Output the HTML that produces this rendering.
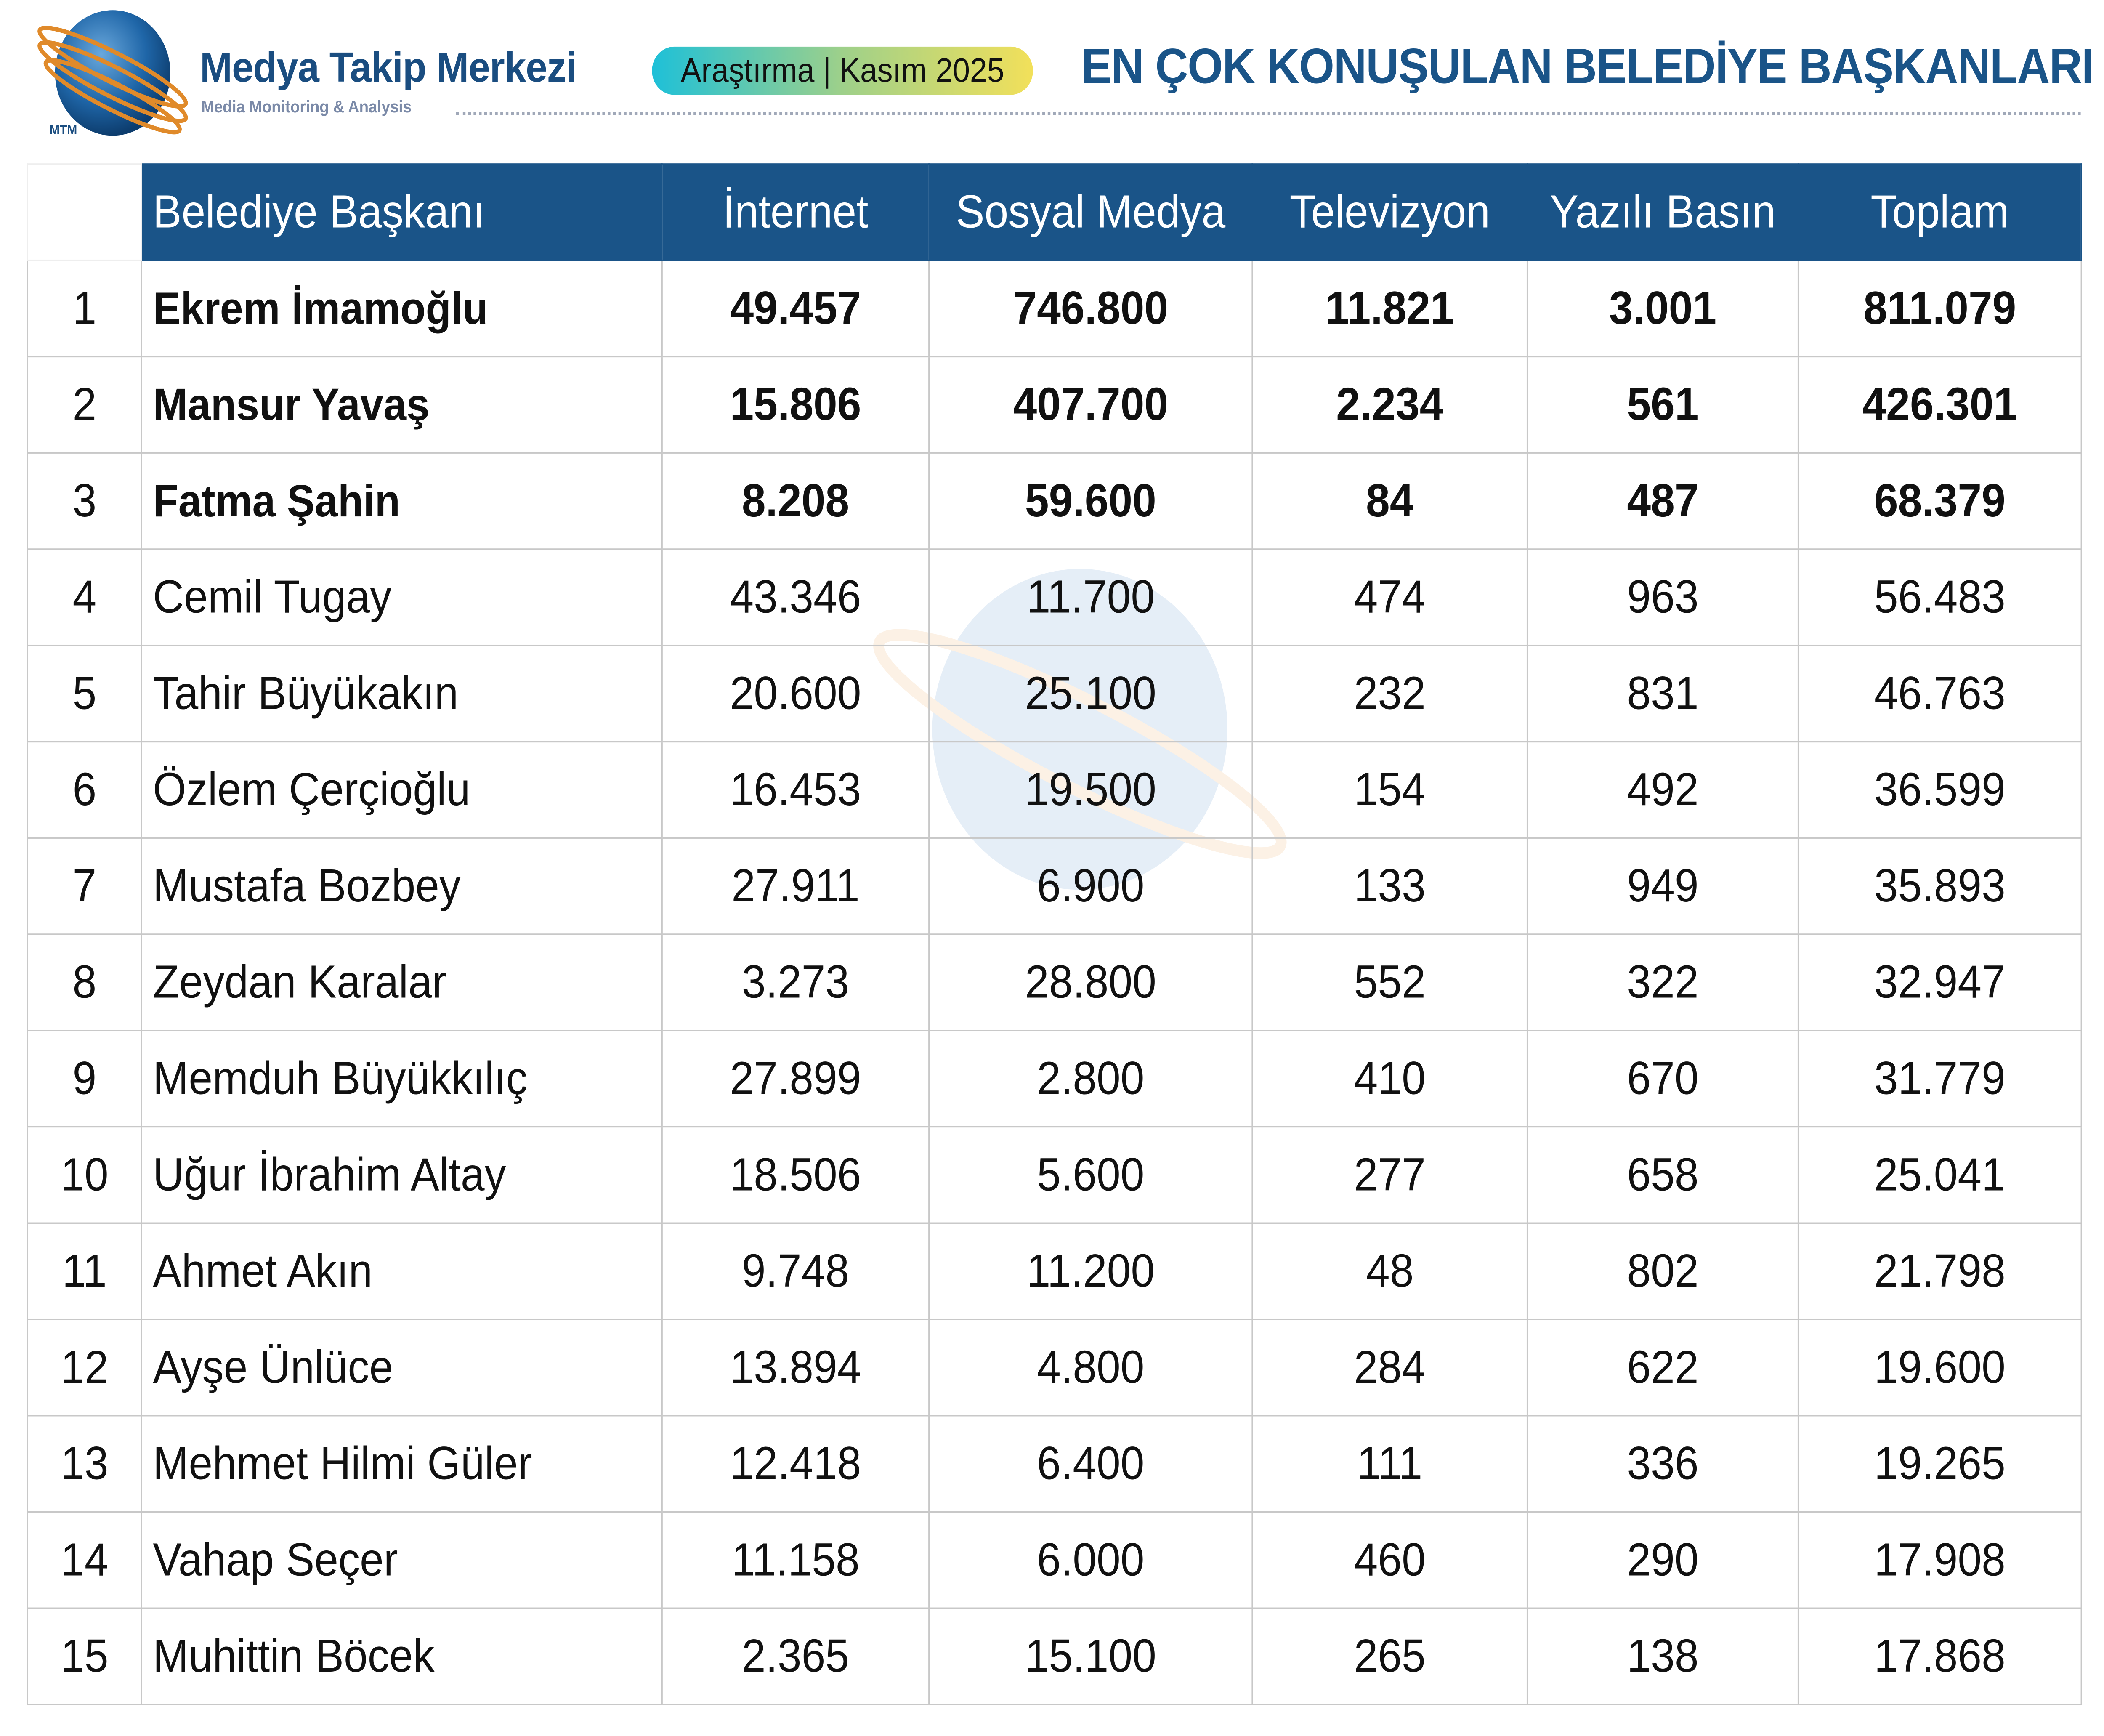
<!DOCTYPE html>
<html><head><meta charset="utf-8"><style>
html,body{margin:0;padding:0;background:#fff;}
body{width:5438px;height:4125px;overflow:hidden;position:relative;}
#w{position:absolute;left:0;top:0;width:1568px;height:1190px;transform:scale(3.188,3.466);transform-origin:0 0;font-family:"Liberation Sans","DejaVu Sans",sans-serif;}
.a{position:absolute;}
table{position:absolute;left:20px;top:112px;border-collapse:collapse;table-layout:fixed;}
td{height:65px;border:1px solid #c8c8c8;font-size:32px;color:#111;text-align:center;padding:0;white-space:nowrap;overflow:hidden;}
td.n{text-align:left;padding-left:8px;}
tr.h td{background:#1a5488;color:#fff;border-color:#1a5488;font-size:32px;}
tr.h td.e{background:#fff;border-color:#eee;}
tr.b td{font-weight:bold;}
tr.b td.n{font-size:31px;}
</style></head><body><div id="w">
<svg class="a" style="left:26px;top:6px" width="120" height="95" viewBox="0 0 120 95">
<defs><radialGradient id="g" cx="40%" cy="35%" r="65%"><stop offset="0" stop-color="#6aa8dc"/><stop offset="0.6" stop-color="#1f66a8"/><stop offset="1" stop-color="#0d3d6e"/></radialGradient></defs>
<circle cx="58" cy="44" r="43" fill="url(#g)"/>
<ellipse cx="58" cy="40" rx="60" ry="10" fill="none" stroke="#e08a2a" stroke-width="3" transform="rotate(25 58 40)"/>
<ellipse cx="58" cy="50" rx="60" ry="10" fill="none" stroke="#e08a2a" stroke-width="3" transform="rotate(25 58 50)"/>
<ellipse cx="58" cy="60" rx="55" ry="9" fill="none" stroke="#e08a2a" stroke-width="3" transform="rotate(25 58 60)"/>
<text x="11" y="86" font-size="9" font-weight="bold" fill="#1a4d80" font-family="Liberation Sans">MTM</text>
</svg>
<div class="a" style="left:149px;top:31px;font-size:29px;font-weight:bold;color:#1a4d80;letter-spacing:-0.3px">Medya Takip Merkezi</div>
<div class="a" style="left:150px;top:68px;font-size:11.5px;font-weight:bold;color:#7b8aa8">Media Monitoring &amp; Analysis</div>
<div class="a" style="left:486px;top:32px;width:284px;height:33px;border-radius:17px;background:linear-gradient(90deg,#1ec0d8,#9ed08a,#f2e05a);font-size:23px;color:#111;text-align:center;line-height:33px">Araştırma | Kasım 2025</div>
<div class="a" style="left:806px;top:27px;font-size:34px;font-weight:bold;color:#1a5488;letter-spacing:-0.5px;white-space:nowrap">EN ÇOK KONUŞULAN BELEDİYE BAŞKANLARI</div>
<div class="a" style="left:340px;top:77px;width:1211px;border-top:2px dotted #a0a8b8"></div>
<svg class="a" style="left:640px;top:385px;opacity:0.12" width="330" height="250"><circle cx="165" cy="115" r="110" fill="#2a70b8"/><ellipse cx="165" cy="125" rx="165" ry="30" fill="none" stroke="#e08a2a" stroke-width="8" transform="rotate(25 165 125)"/></svg>
<table>
<colgroup><col style="width:85px"><col style="width:388px"><col style="width:199px"><col style="width:241px"><col style="width:205px"><col style="width:202px"><col style="width:211px"></colgroup>
<tr class="h"><td class="e"></td><td class="n">Belediye Başkanı</td><td>İnternet</td><td>Sosyal Medya</td><td>Televizyon</td><td>Yazılı Basın</td><td>Toplam</td></tr>
<tr class="b"><td style="font-weight:normal">1</td><td class="n">Ekrem İmamoğlu</td><td>49.457</td><td>746.800</td><td>11.821</td><td>3.001</td><td>811.079</td></tr>
<tr class="b"><td style="font-weight:normal">2</td><td class="n">Mansur Yavaş</td><td>15.806</td><td>407.700</td><td>2.234</td><td>561</td><td>426.301</td></tr>
<tr class="b"><td style="font-weight:normal">3</td><td class="n">Fatma Şahin</td><td>8.208</td><td>59.600</td><td>84</td><td>487</td><td>68.379</td></tr>
<tr><td>4</td><td class="n">Cemil Tugay</td><td>43.346</td><td>11.700</td><td>474</td><td>963</td><td>56.483</td></tr>
<tr><td>5</td><td class="n">Tahir Büyükakın</td><td>20.600</td><td>25.100</td><td>232</td><td>831</td><td>46.763</td></tr>
<tr><td>6</td><td class="n">Özlem Çerçioğlu</td><td>16.453</td><td>19.500</td><td>154</td><td>492</td><td>36.599</td></tr>
<tr><td>7</td><td class="n">Mustafa Bozbey</td><td>27.911</td><td>6.900</td><td>133</td><td>949</td><td>35.893</td></tr>
<tr><td>8</td><td class="n">Zeydan Karalar</td><td>3.273</td><td>28.800</td><td>552</td><td>322</td><td>32.947</td></tr>
<tr><td>9</td><td class="n">Memduh Büyükkılıç</td><td>27.899</td><td>2.800</td><td>410</td><td>670</td><td>31.779</td></tr>
<tr><td>10</td><td class="n">Uğur İbrahim Altay</td><td>18.506</td><td>5.600</td><td>277</td><td>658</td><td>25.041</td></tr>
<tr><td>11</td><td class="n">Ahmet Akın</td><td>9.748</td><td>11.200</td><td>48</td><td>802</td><td>21.798</td></tr>
<tr><td>12</td><td class="n">Ayşe Ünlüce</td><td>13.894</td><td>4.800</td><td>284</td><td>622</td><td>19.600</td></tr>
<tr><td>13</td><td class="n">Mehmet Hilmi Güler</td><td>12.418</td><td>6.400</td><td>111</td><td>336</td><td>19.265</td></tr>
<tr><td>14</td><td class="n">Vahap Seçer</td><td>11.158</td><td>6.000</td><td>460</td><td>290</td><td>17.908</td></tr>
<tr><td>15</td><td class="n">Muhittin Böcek</td><td>2.365</td><td>15.100</td><td>265</td><td>138</td><td>17.868</td></tr>
</table>
</div></body></html>
